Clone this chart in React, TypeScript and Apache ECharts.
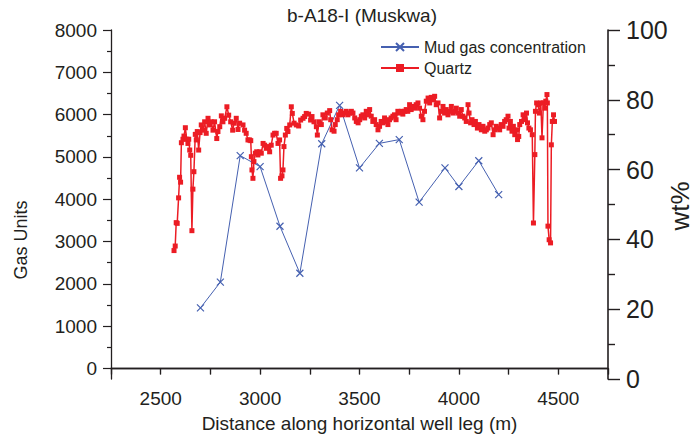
import React, { useEffect, useRef } from "react";
import * as echarts from "echarts";

// Mud gas log along the horizontal leg (Gas Units, left axis)
const gasDistance = [2700, 2800, 2900, 3000, 3100, 3200, 3310, 3400, 3500, 3600, 3700, 3800, 3930, 4000, 4100, 4200];
const gasUnits = [1430, 2040, 5030, 4770, 3360, 2250, 5310, 6220, 4740, 5320, 5410, 3930, 4740, 4300, 4910, 4110];

// Quartz content along the same leg (wt%, right axis)
const quartzDistance = [
  2567, 2573, 2578, 2583, 2590, 2595, 2600, 2604, 2612, 2617, 2624, 2631, 2637, 2641, 2646, 2651, 2657, 2662, 2667, 2674,
  2679, 2684, 2691, 2698, 2704, 2713, 2721, 2729, 2738, 2746, 2754, 2763, 2771, 2782, 2788, 2797, 2805, 2813, 2822, 2833,
  2842, 2852, 2862, 2869, 2880, 2889, 2897, 2914, 2922, 2930, 2939, 2947, 2953, 2956, 2959, 2964, 2969, 2976, 2983, 2989,
  2998, 3006, 3015, 3023, 3031, 3040, 3048, 3056, 3065, 3073, 3081, 3090, 3098, 3103, 3110, 3115, 3120, 3127, 3134, 3140,
  3149, 3157, 3162, 3171, 3182, 3194, 3204, 3216, 3224, 3232, 3244, 3254, 3261, 3271, 3283, 3288, 3296, 3308, 3316, 3328,
  3338, 3350, 3355, 3362, 3372, 3378, 3388, 3395, 3405, 3417, 3426, 3433, 3442, 3451, 3459, 3467, 3476, 3484, 3493, 3501,
  3509, 3517, 3526, 3534, 3543, 3551, 3559, 3567, 3576, 3584, 3593, 3601, 3609, 3618, 3626, 3634, 3643, 3651, 3659, 3668,
  3676, 3684, 3693, 3701, 3710, 3718, 3727, 3735, 3743, 3752, 3760, 3769, 3777, 3785, 3794, 3802, 3811, 3819, 3827, 3836,
  3845, 3853, 3861, 3870, 3878, 3886, 3895, 3903, 3911, 3920, 3928, 3936, 3945, 3953, 3962, 3970, 3979, 3987, 3995, 4004,
  4012, 4020, 4029, 4037, 4046, 4051, 4059, 4066, 4076, 4083, 4093, 4101, 4113, 4121, 4130, 4138, 4146, 4155, 4163, 4172,
  4180, 4188, 4197, 4205, 4213, 4222, 4230, 4238, 4247, 4252, 4259, 4267, 4274, 4281, 4290, 4295, 4301, 4306, 4315, 4323,
  4332, 4340, 4345, 4352, 4360, 4369, 4375, 4382, 4385, 4391, 4398, 4405, 4412, 4418, 4425, 4432, 4437, 4443, 4445, 4448,
  4454, 4461, 4465, 4470, 4476, 4481,
];
const quartzWt = [
  36.8, 38.1, 44.8, 44.6, 51.9, 57.8, 56.4, 67.7, 68.7, 69.6, 72.0, 68.7, 67.5, 68.7, 65.6, 64.1, 42.5, 54.4, 59.4, 70.1,
  68.5, 70.9, 65.6, 70.6, 72.8, 71.3, 73.7, 70.4, 74.7, 72.8, 73.7, 71.3, 73.7, 68.9, 70.9, 72.3, 75.4, 73.7, 74.7, 78.0,
  75.6, 73.7, 71.3, 73.3, 74.7, 71.5, 73.3, 72.8, 71.3, 70.4, 68.5, 68.5, 68.3, 63.7, 59.9, 57.5, 62.3, 64.7, 65.1, 64.2,
  65.1, 64.7, 67.5, 67.0, 66.1, 66.6, 65.1, 67.0, 69.9, 70.4, 70.4, 67.5, 68.5, 57.5, 58.2, 59.9, 66.6, 69.9, 71.8, 70.9,
  72.8, 78.0, 76.1, 73.3, 72.8, 72.5, 74.2, 74.7, 75.2, 76.1, 75.9, 74.2, 75.2, 73.7, 72.3, 69.9, 73.7, 72.9, 75.7, 74.8,
  76.2, 76.9, 74.3, 71.4, 71.0, 72.9, 74.3, 75.7, 76.7, 75.7, 76.2, 76.7, 75.7, 76.2, 76.7, 76.2, 74.8, 73.8, 73.4, 74.3,
  75.3, 75.7, 74.8, 76.7, 75.7, 77.2, 75.3, 73.8, 74.3, 72.9, 71.4, 72.4, 73.8, 73.4, 74.8, 73.8, 72.9, 74.3, 74.8, 75.3,
  75.7, 74.3, 76.7, 76.2, 76.7, 75.9, 76.7, 77.2, 76.7, 78.6, 77.2, 78.1, 77.6, 78.6, 79.1, 77.6, 75.3, 74.3, 76.7, 79.6,
  80.5, 79.1, 80.7, 80.0, 81.0, 78.6, 79.1, 74.8, 76.7, 78.1, 76.2, 77.2, 75.7, 76.7, 78.1, 76.2, 76.7, 77.6, 76.2, 75.3,
  77.2, 75.3, 74.8, 73.8, 78.6, 76.2, 73.4, 74.3, 72.9, 73.8, 71.9, 72.9, 71.4, 72.4, 71.0, 71.4, 71.9, 72.9, 73.4, 70.0,
  71.4, 72.4, 71.9, 71.4, 72.9, 72.4, 73.8, 74.3, 75.3, 71.9, 73.8, 71.0, 72.4, 70.0, 71.4, 68.6, 69.5, 72.9, 73.8, 75.7,
  74.3, 76.2, 73.4, 71.9, 71.4, 70.0, 44.7, 64.3, 76.7, 79.1, 78.6, 76.2, 79.1, 69.1, 79.1, 77.6, 79.6, 81.5, 79.1, 43.8,
  39.9, 39.0, 67.1, 73.8, 75.7, 73.8,
];

// Axis tick positions
const distanceLabels = [2500, 3000, 3500, 4000, 4500];
const gasTicks = [0, 1000, 2000, 3000, 4000, 5000, 6000, 7000, 8000];
const gasMinorTicks = [500, 1500, 2500, 3500, 4500, 5500, 6500, 7500];

const FONT = "'Liberation Sans', Arial, Helvetica, sans-serif";
const INK = "#231f20";
const BLUE = "#4560b0";
const RED = "#ec1c24";

const plain = (v: number) => String(v);

export default function App() {
  const ref = useRef<HTMLDivElement>(null);

  useEffect(() => {
    document.body.style.margin = "0";
    if (!ref.current) return;
    const chart = echarts.init(ref.current, null, { renderer: "svg" });

    const axisLine = { show: true, lineStyle: { color: INK, width: 1.3 } };

    chart.setOption({
      animation: false,
      backgroundColor: "#ffffff",
      textStyle: { fontFamily: FONT, color: INK },
      grid: { left: 111, right: 89, top: 30, bottom: 59, containLabel: false, outerBoundsMode: "none" },
      legend: {
        orient: "vertical",
        left: 375,
        top: 34,
        itemWidth: 38,
        itemHeight: 10,
        itemGap: 5,
        data: ["Mud gas concentration", "Quartz"],
        textStyle: { fontSize: 16, color: INK, fontFamily: FONT },
      },
      graphic: [
        {
          type: "text",
          x: 362,
          y: 6,
          style: { text: "b-A18-I (Muskwa)", fontSize: 19, fontFamily: FONT, fill: INK, textAlign: "center" },
        },
        {
          type: "text",
          x: 21,
          y: 240,
          rotation: Math.PI / 2,
          style: {
            text: "Gas Units",
            fontSize: 18,
            fontFamily: FONT,
            fill: INK,
            textAlign: "center",
            textVerticalAlign: "middle",
          },
        },
        {
          type: "text",
          x: 680,
          y: 206,
          rotation: Math.PI / 2,
          style: {
            text: "wt%",
            fontSize: 26,
            fontFamily: FONT,
            fill: INK,
            textAlign: "center",
            textVerticalAlign: "middle",
          },
        },
      ],
      xAxis: [
        {
          type: "value",
          position: "bottom",
          min: 2250,
          max: 4750,
          interval: 250,
          axisLine,
          axisTick: { show: true, length: 6, lineStyle: { color: INK, width: 1.2 } },
          axisLabel: {
            customValues: distanceLabels,
            formatter: plain,
            fontSize: 19,
            margin: 10,
            color: INK,
            fontFamily: FONT,
          },
          splitLine: { show: false },
          name: "Distance along horizontal well leg (m)",
          nameLocation: "middle",
          nameGap: 35,
          nameTextStyle: { fontSize: 19, color: INK, fontFamily: FONT },
        },
        {
          type: "value",
          position: "top",
          min: 2250,
          max: 4750,
          interval: 250,
          axisLine,
          axisTick: { show: true, inside: true, length: 6, lineStyle: { color: INK, width: 1.2 } },
          axisLabel: { show: false },
          splitLine: { show: false },
        },
      ],
      yAxis: [
        {
          type: "value",
          position: "left",
          min: -250,
          max: 8000,
          axisLine,
          axisTick: { show: true, customValues: gasTicks, length: 8, lineStyle: { color: INK, width: 1.2 } },
          axisLabel: {
            customValues: gasTicks,
            formatter: plain,
            fontSize: 19,
            margin: 14,
            color: INK,
            fontFamily: FONT,
          },
          splitLine: { show: false },
        },
        {
          type: "value",
          position: "left",
          min: -250,
          max: 8000,
          axisLine: { show: false },
          axisTick: { show: true, customValues: gasMinorTicks, length: 4, lineStyle: { color: INK, width: 1.2 } },
          axisLabel: { show: false },
          splitLine: { show: false },
        },
        {
          type: "value",
          position: "right",
          min: 0,
          max: 100,
          interval: 20,
          axisLine: { show: true, lineStyle: { color: INK, width: 1.6 } },
          axisTick: { show: true, length: 12, lineStyle: { color: INK, width: 1.4 } },
          minorTick: { show: true, splitNumber: 2, length: 7, lineStyle: { color: INK, width: 1.4 } },
          axisLabel: { formatter: plain, fontSize: 25, margin: 18, color: INK, fontFamily: FONT },
          splitLine: { show: false },
        },
      ],
      series: [
        {
          name: "Quartz",
          type: "line",
          xAxisIndex: 0,
          yAxisIndex: 2,
          data: quartzDistance.map((d, i) => [d, quartzWt[i]]),
          symbol: "rect",
          symbolSize: 5,
          showAllSymbol: true,
          color: RED,
          lineStyle: { color: RED, width: 1.5 },
          itemStyle: { color: RED },
        },
        {
          name: "Mud gas concentration",
          type: "line",
          xAxisIndex: 0,
          yAxisIndex: 0,
          data: gasDistance.map((d, i) => [d, gasUnits[i]]),
          symbol: "path://M0,0L10,10M10,0L0,10",
          symbolSize: 7,
          showAllSymbol: true,
          color: BLUE,
          lineStyle: { color: BLUE, width: 1 },
          itemStyle: { color: BLUE, borderColor: BLUE, borderWidth: 1.2 },
        },
      ],
    });

    return () => chart.dispose();
  }, []);

  return <div ref={ref} style={{ width: 697, height: 438 }} />;
}
